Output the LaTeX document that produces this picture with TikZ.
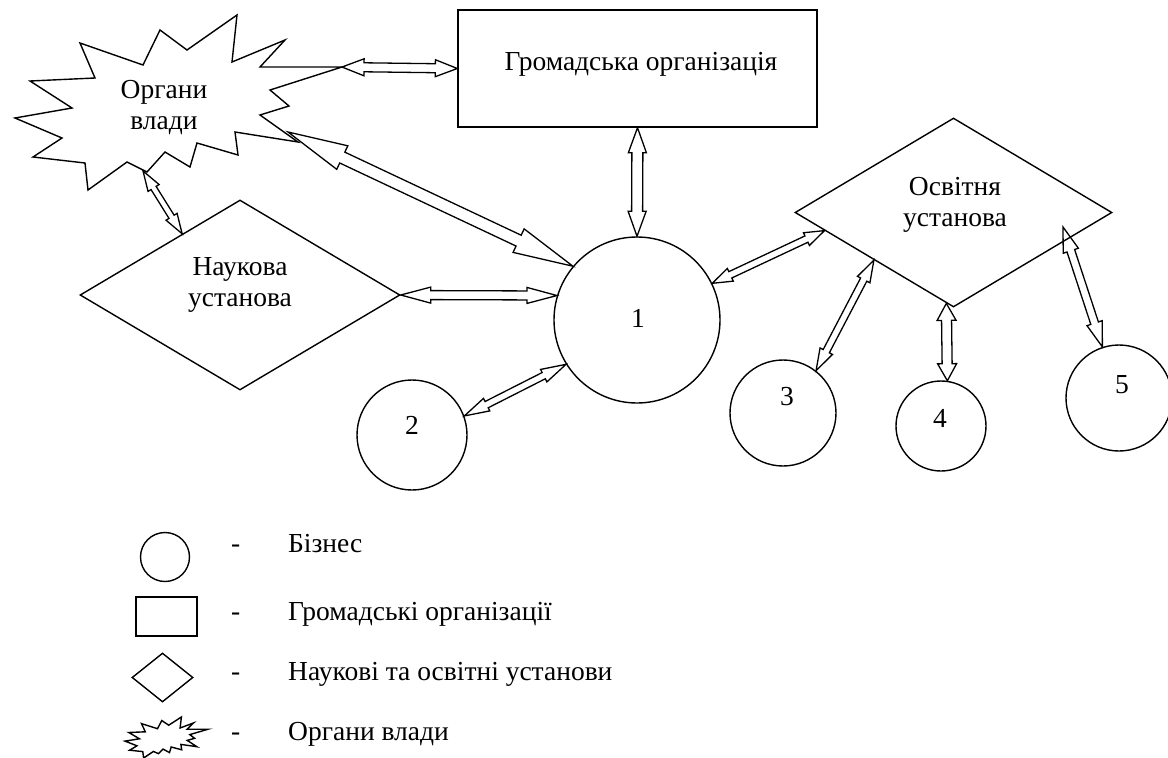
\documentclass[tikz,border=0pt]{standalone}
\usepackage{fontspec}
\setmainfont{Liberation Serif}
\usetikzlibrary{calc,shapes.geometric}
\tikzset{
  shp/.style={draw, line width=1.4pt, inner sep=0pt},
  circ/.style={shp, circle},
  dia/.style={shp, diamond},
  arr/.style={line width=1.3pt},
  txt/.style={font=\fontsize{27.5}{31}\selectfont, align=center, inner sep=0pt},
  leg/.style={font=\fontsize{27.5}{31}\selectfont, inner sep=0pt, anchor=base west},
}
\newcommand\dblarr[5]{%
  \path ($(#1)!#5!(#2)$) coordinate (h1) ($(#2)!#5!(#1)$) coordinate (h2);
  \draw[arr] (#1) -- ($(h1)!#4!90:(#2)$) -- ($(h1)!#3!90:(#2)$) -- ($(h2)!#3!-90:(#1)$) -- ($(h2)!#4!-90:(#1)$) -- (#2) -- ($(h2)!#4!90:(#1)$) -- ($(h2)!#3!90:(#1)$) -- ($(h1)!#3!-90:(#2)$) -- ($(h1)!#4!-90:(#2)$) -- cycle;}
\begin{document}
\begin{tikzpicture}[x=1pt,y=-1pt]
\useasboundingbox (0,0) rectangle (1168,758);
% main shapes
\draw[shp] (15,118) -- (72,108) -- (30,81) -- (95,78) -- (80,43) -- (143,65) -- (160,30) -- (187,50) -- (237,15) -- (232,62) -- (285,40) -- (260,67) -- (342,67) -- (270,90) -- (289,106) -- (260,115) -- (298,142) -- (235,132) -- (238,155) -- (197,143) -- (190,167) -- (165,152) -- (147,172) -- (127,162) -- (88,190) -- (85,163) -- (33,157) -- (62,138) -- cycle;
\coordinate (sbA) at (342,67);
\coordinate (sbB) at (288,132);
\coordinate (sbC) at (143,171);
\node[shp, minimum width=359pt, minimum height=117pt] (gro) at (637.5,68.5) {};
\node[circ, minimum size=166pt] (c1) at (637,320) {};
\node[circ, minimum size=110pt] (c2) at (412,435) {};
\node[circ, minimum size=106pt] (c3) at (783,413) {};
\node[circ, minimum size=90pt] (c4) at (941,426) {};
\node[circ, minimum size=106pt] (c5) at (1119,398) {};
\node[dia, minimum width=320pt, minimum height=190pt] (nauk) at (240,295) {};
\node[dia, minimum width=317pt, minimum height=189pt] (osv) at (953.5,212.5) {};
% labels
\node[txt] (tvl) at (164,108) {Органи\\влади};
\node[txt] (tgro) at (641,64) {Громадська організація};
\node[txt] (tnauk) at (240,285) {Наукова\\установа};
\node[txt] (tosv) at (955,205) {Освітня\\установа};
\node[txt] (t1) at (638,318) {1};
\node[txt] (t2) at (412,425) {2};
\node[txt] (t3) at (787,397) {3};
\node[txt] (t4) at (940,418) {4};
\node[txt] (t5) at (1122,385) {5};
% attachment points
\coordinate (n1) at ($(nauk.west)!0.64!(nauk.north)$);
\coordinate (o1) at ($(osv.west)!0.19!(osv.south)$);
\coordinate (o2) at ($(osv.west)!0.5!(osv.south)$);
\coordinate (o3) at ($(osv.west)!0.955!(osv.south)$);
\coordinate (o4) at (1063,227);
% connectors
\dblarr{sbA}{gro.west}{4.5pt}{8.5pt}{22pt}
\dblarr{sbB}{c1.140}{6pt}{13pt}{60pt}
\dblarr{sbC}{n1}{3pt}{6.5pt}{20pt}
\dblarr{nauk.east}{c1.163}{4.5pt}{8pt}{30pt}
\dblarr{c2.20}{c1.212}{3.5pt}{7pt}{25pt}
\dblarr{gro.south}{c1.north}{5.5pt}{9pt}{25pt}
\dblarr{c1.26}{o1}{3.5pt}{7pt}{20pt}
\dblarr{c3.52}{o2}{3.5pt}{7pt}{22pt}
\dblarr{o3}{c4.82}{5pt}{9.5pt}{17pt}
\dblarr{o4}{c5.108}{4pt}{8pt}{25pt}
% legend
\node[circ, minimum size=49pt] (lc) at (165,557) {};
\node[shp, minimum width=61pt, minimum height=39pt] (lr) at (166.5,616.5) {};
\node[dia, minimum width=61pt, minimum height=49pt] (ld) at (162.5,677.5) {};
\draw[shp] (125.0,741.1) -- (139.5,738.8) -- (128.8,732.5) -- (145.3,731.8) -- (141.5,723.6) -- (157.5,728.7) -- (161.8,720.5) -- (168.7,725.2) -- (181.4,717.0) -- (180.1,728.0) -- (193.6,722.9) -- (187.2,729.2) -- (208.1,729.2) -- (189.8,734.6) -- (194.6,738.3) -- (187.2,740.4) -- (196.9,746.7) -- (180.9,744.4) -- (181.7,749.8) -- (171.2,747.0) -- (169.5,752.6) -- (163.1,749.1) -- (158.5,753.7) -- (153.5,751.4) -- (143.6,758.0) -- (142.8,751.6) -- (129.6,750.2) -- (137.0,745.8) -- cycle;
\node[leg] (d1) at (231,552) {-};
\node[leg] (d2) at (231,620) {-};
\node[leg] (d3) at (231,680) {-};
\node[leg] (d4) at (231,740) {-};
\node[leg] (l1) at (288,552) {Бізнес};
\node[leg] (l2) at (288,620) {Громадські організації};
\node[leg] (l3) at (288,680) {Наукові та освітні установи};
\node[leg] (l4) at (288,740) {Органи влади};
\end{tikzpicture}
\end{document}
